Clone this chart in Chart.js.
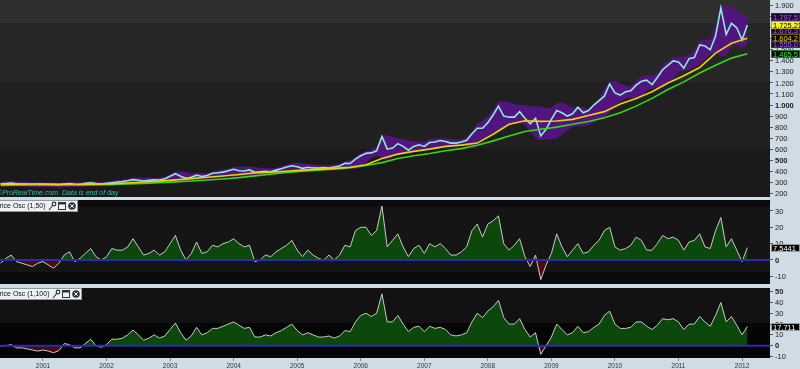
<!DOCTYPE html>
<html>
<head>
<meta charset="utf-8">
<script src="https://cdn.jsdelivr.net/npm/chart.js@4.4.1/dist/chart.umd.min.js"></script>
<style>
  html, body { margin: 0; padding: 0; background: #cfdce5; overflow: hidden; }
  .pane { position: absolute; left: 0; width: 800px; }
  #p0 { top: 0; height: 197px; }
  #p1 { top: 200px; height: 84px; }
  #p2 { top: 288px; height: 81px; }
</style>
</head>
<body>
<div class="pane" id="p0"><canvas id="main" width="800" height="197"></canvas></div>
<div class="pane" id="p1"><canvas id="osc1" width="800" height="84"></canvas></div>
<div class="pane" id="p2"><canvas id="osc2" width="800" height="81"></canvas></div>
<script>
// monthly series start May 2000, quarterly series start at the same month
const firstMonth = 2000 + 4 / 12;
const xMin = 2000.3234, xMax = 2012.4398;

// gold price, monthly
const price = [
  285, 288, 292, 286, 284, 282, 280, 284,
  282, 280, 279, 276, 283, 288, 282, 280, 290, 296, 288, 284,
  290, 296, 303, 306, 313, 324, 318, 312, 318, 322, 320, 332,
  355, 378, 355, 336, 346, 364, 352, 362, 382, 386, 392, 405,
  418, 405, 402, 412, 390, 395, 400, 396, 410, 422, 438, 450,
  440, 426, 436, 430, 428, 434, 430, 438, 448, 472, 470, 510,
  540, 562, 566, 585, 715, 600, 610, 650, 625, 590, 625, 640,
  625, 660, 665, 678, 670, 655, 655, 665, 680, 740, 790, 790,
  840, 910, 990, 900, 890, 890, 940, 880, 830, 880, 720, 780,
  870, 950, 930, 900, 920, 980, 930, 950, 1000, 1040, 1080, 1190,
  1110, 1090, 1120, 1130, 1180, 1215, 1225, 1185, 1250, 1320, 1360, 1400,
  1390, 1335, 1420, 1430, 1545, 1535, 1500, 1625, 1880, 1640, 1740, 1700,
  1590, 1725.23
];

// bollinger bands, monthly
const bbUpper = [
  305, 308, 310, 308, 305, 303, 301, 300,
  298, 296, 295, 294, 298, 302, 300, 298, 304, 310, 308, 304,
  306, 312, 320, 326, 332, 342, 344, 340, 340, 342, 342, 350,
  370, 396, 400, 392, 380, 384, 384, 382, 398, 406, 414, 424,
  436, 441, 441, 440, 438, 432, 426, 424, 430, 442, 458, 472,
  475, 472, 466, 460, 456, 455, 454, 458, 468, 490, 500, 530,
  560, 580, 595, 620, 720, 725, 710, 700, 690, 680, 672, 665,
  668, 690, 698, 700, 700, 690, 685, 690, 710, 760, 830, 860,
  900, 960, 1030, 1035, 1025, 1010, 1000, 1000, 990, 990, 985, 970,
  975, 1015, 1020, 1000, 975, 990, 975, 965, 1010, 1060, 1150, 1210,
  1215, 1200, 1175, 1170, 1220, 1260, 1270, 1265, 1290, 1360, 1400, 1430,
  1440, 1435, 1450, 1500, 1580, 1590, 1590, 1720, 1905, 1900, 1880, 1860,
  1820, 1797.5
];
const bbLower = [
  262, 264, 266, 265, 262, 260, 258, 258,
  258, 256, 254, 253, 255, 258, 260, 260, 262, 264, 266, 266,
  266, 268, 272, 278, 284, 290, 294, 292, 294, 296, 298, 300,
  300, 300, 305, 308, 318, 322, 328, 332, 334, 342, 350, 356,
  350, 355, 360, 362, 364, 366, 368, 370, 374, 380, 388, 396,
  396, 398, 400, 402, 404, 404, 406, 408, 410, 414, 420, 430,
  448, 475, 520, 540, 520, 500, 530, 560, 570, 575, 580, 590,
  595, 600, 610, 625, 635, 635, 630, 628, 630, 625, 640, 680,
  720, 750, 770, 800, 830, 840, 850, 820, 760, 700, 680, 690,
  690, 700, 730, 770, 800, 805, 805, 815, 840, 870, 890, 930,
  1000, 1030, 1060, 1065, 1060, 1080, 1130, 1150, 1150, 1170, 1210, 1240,
  1300, 1310, 1320, 1340, 1370, 1420, 1460, 1480, 1440, 1450, 1530, 1550,
  1520, 1555
];

// moving averages, quarterly
const ma50 = [
  283, 283, 284, 283, 281, 281, 283, 287, 293, 302, 310, 322,
  333, 345, 357, 370, 385, 392, 400, 410, 419, 426, 436, 458,
  515, 555, 580, 600, 625, 637, 655, 735, 825, 858, 852, 855,
  870, 905, 940, 1010, 1060, 1120, 1200, 1265, 1340, 1470, 1560, 1604.2
];
const ma100 = [
  272, 274, 275, 276, 277, 278, 279, 281, 285, 290, 296, 304,
  312, 320, 330, 342, 358, 372, 388, 400, 410, 420, 432, 452,
  478, 515, 540, 560, 585, 605, 635, 675, 720, 760, 780, 800,
  825, 850, 885, 930, 990, 1060, 1140, 1210, 1290, 1360, 1425, 1465.5
];

// price oscillators (1,50) and (1,100), monthly
const osc50 = [
  -2, 1, 3, -1, -2, -3, -4, -2,
  -1, -3, -5, -2, 3, 5, -1, 1, 4, 7, 2, 0,
  2, 7, 6, 6, 8, 13, 8, 3, 4, 6, 3, 5,
  10, 15, 6, 0, 4, 11, 4, 5, 9, 8, 10, 11,
  13, 10, 8, 9, -1, 0, 3, 2, 5, 7, 9, 12,
  6, 2, 6, 3, 1, 0, 3, 0, 3, 9, 8, 18,
  20, 20, 15, 18, 33, 8, 12, 16, 8, 2, 7, 9,
  4, 10, 8, 10, 7, 3, 3, 5, 8, 18, 22, 14,
  22, 24, 27, 10, 6, 9, 13, 2, -4, 3, -12, -3,
  4, 16, 8, 2, 6, 10, 4, 5, 9, 12, 18, 20,
  8, 6, 7, 9, 14, 12, 6, 6, 10, 15, 13, 14,
  12, 6, 11, 12, 16, 8, 7, 18, 26, 8, 13, 6,
  -1, 7.5441
];
const osc100 = [
  -0.5, 0, 1, -2, -2, -3, -4, -5,
  -4, -5, -6.5, -4.6, 2, 1, -2, -2, 2, 6, 0, -1.5,
  1, 6, 6, 7, 10, 14.5, 10, 5, 7, 10, 7, 9,
  15, 21, 12, 5, 9, 17, 10, 12, 16, 16, 18, 20,
  22, 19, 16, 17, 8, 8, 10, 9, 12, 14, 17, 20,
  14, 10, 12, 10, 8, 8, 9, 7, 9, 14, 13, 22,
  28, 30, 27, 30, 48, 22, 22, 28, 20, 13, 17, 18,
  13, 18, 16, 17, 15, 10, 9, 10, 12, 22, 30, 26,
  32, 36, 42, 26, 20, 20, 25, 15, 8, 12, -8, 0,
  8, 20, 15, 10, 12, 18, 12, 13, 17, 20, 28, 32,
  20, 16, 16, 17, 22, 22, 18, 15, 19, 25, 24, 25,
  22, 15, 20, 20, 27, 22, 18, 28, 40, 22, 27, 19,
  10, 17.711
];

const FONT = 'Arial, "Liberation Sans", sans-serif';

const monthly = arr => arr.map((v, i) => ({ x: firstMonth + i / 12, y: v }));
const quarterly = arr => arr.map((v, i) => ({ x: firstMonth + i / 4, y: v }));
const last = arr => arr[arr.length - 1];

// 1725.23 -> "1.725,23"
function fmt(v, dec) {
  const parts = v.toFixed(dec).split('.');
  const int = parts[0].replace(/\B(?=(\d{3})+(?!\d))/g, '.');
  return parts[1] ? int + ',' + parts[1] : int;
}

// background stripes inside the plot area
const panelBg = {
  id: 'panelBg',
  beforeDraw(chart, args, opts) {
    const { ctx, chartArea: a } = chart;
    ctx.save();
    let top = Math.round(a.top);
    opts.bands.forEach(([frac, color]) => {
      const bottom = Math.round(a.top + frac * (a.bottom - a.top));
      ctx.fillStyle = color;
      ctx.fillRect(Math.round(a.left), top, Math.round(a.right - a.left), bottom - top);
      top = bottom;
    });
    ctx.restore();
  }
};

// right axis numbers (drawn by hand so the axis adds no padding above/below the plot)
const axisLabels = {
  id: 'axisLabels',
  afterDraw(chart, args, opts) {
    const { ctx, chartArea: a, scales: { y } } = chart;
    ctx.save();
    ctx.textBaseline = 'middle';
    ctx.fillStyle = '#1a1a1a';
    y.ticks.forEach(t => {
      const py = y.getPixelForValue(t.value);
      ctx.font = (opts.bold.includes(t.value) ? 'bold ' : '') + '7.5px ' + FONT;
      ctx.fillText(fmt(t.value, 0), a.right + 5, py + 0.5);
    });
    ctx.restore();
  }
};

// coloured value tags on the right axis
const valueBoxes = {
  id: 'valueBoxes',
  afterDraw(chart, args, opts) {
    const { ctx, chartArea: a, scales: { y } } = chart;
    ctx.save();
    ctx.font = '7.5px ' + FONT;
    ctx.textBaseline = 'middle';
    opts.boxes.forEach(b => {
      const py = Math.round(y.getPixelForValue(b.value));
      ctx.fillStyle = b.bg;
      ctx.fillRect(a.right + 1, py - 4, 29, 8);
      ctx.strokeStyle = b.edge;
      ctx.lineWidth = 1;
      ctx.strokeRect(a.right + 1.5, py - 3.5, 28, 7);
      ctx.fillStyle = b.fg;
      ctx.fillText(b.text, a.right + 3, py + 0.5);
    });
    ctx.restore();
  }
};

// blue zero line of the oscillators
const zeroLine = {
  id: 'zeroLine',
  afterDatasetsDraw(chart) {
    const { ctx, chartArea: a, scales: { y } } = chart;
    const py = y.getPixelForValue(0);
    ctx.save();
    ctx.strokeStyle = '#2b2bb0';
    ctx.lineWidth = 2;
    ctx.beginPath();
    ctx.moveTo(a.left, py);
    ctx.lineTo(a.right, py);
    ctx.stroke();
    ctx.restore();
  }
};

// indicator title tab with the little icons
const panelHeader = {
  id: 'panelHeader',
  afterDraw(chart, args, opts) {
    const { ctx } = chart;
    const w = opts.width;
    ctx.save();
    ctx.fillStyle = '#eef2f5';
    ctx.fillRect(0, 0, w, 12);
    ctx.strokeStyle = '#8c9aa4';
    ctx.strokeRect(-1, 0.5, w + 0.5, 11);
    ctx.fillStyle = '#111';
    ctx.font = '7px ' + FONT;
    ctx.textBaseline = 'middle';
    ctx.fillText(opts.title, -5, 6.5);
    const ix = w - 29;
    // wrench
    ctx.strokeStyle = '#333';
    ctx.lineWidth = 1.2;
    ctx.beginPath();
    ctx.moveTo(ix, 10);
    ctx.lineTo(ix + 4, 5);
    ctx.stroke();
    ctx.beginPath();
    ctx.arc(ix + 5, 4, 1.8, 0, Math.PI * 2);
    ctx.stroke();
    // window
    ctx.lineWidth = 1;
    ctx.strokeRect(ix + 9.5, 2.5, 7, 7);
    ctx.fillStyle = '#333';
    ctx.fillRect(ix + 9.5, 2.5, 7, 2);
    // close
    ctx.beginPath();
    ctx.arc(ix + 23, 6, 3.8, 0, Math.PI * 2);
    ctx.fill();
    ctx.strokeStyle = '#fff';
    ctx.beginPath();
    ctx.moveTo(ix + 21.3, 4.3); ctx.lineTo(ix + 24.7, 7.7);
    ctx.moveTo(ix + 24.7, 4.3); ctx.lineTo(ix + 21.3, 7.7);
    ctx.stroke();
    ctx.restore();
  }
};

const copyright = {
  id: 'copyright',
  afterDraw(chart) {
    const { ctx } = chart;
    ctx.save();
    ctx.font = 'italic 7px ' + FONT;
    ctx.fillStyle = '#3bbcaa';
    ctx.textBaseline = 'alphabetic';
    ctx.fillText('\u00a9ProRealTime.com  Data is end of day', -3, 195);
    ctx.restore();
  }
};

function yAxis(min, max, step) {
  return {
    type: 'linear',
    position: 'right',
    min: min,
    max: max,
    afterFit: s => { s.width = 30; },
    border: { display: false },
    grid: { drawOnChartArea: false, drawTicks: true, tickLength: 3, color: '#555' },
    ticks: {
      display: false,
      stepSize: step,
      maxTicksLimit: 100,
      includeBounds: false,
      autoSkip: false
    }
  };
}

function xAxis(show) {
  const axis = {
    type: 'linear',
    min: xMin,
    max: xMax,
    display: show,
    border: { display: false },
    grid: { drawOnChartArea: false, drawTicks: true, tickLength: 3, color: '#7a8a94' },
    ticks: {
      stepSize: 1,
      includeBounds: false,
      autoSkip: false,
      maxRotation: 0,
      padding: 1,
      color: '#333',
      font: { family: FONT, size: 6.5 },
      callback: v => String(v)
    }
  };
  if (show) axis.afterFit = s => { s.height = 11; };
  return axis;
}

function baseOptions(extra) {
  return Object.assign({
    responsive: false,
    animation: false,
    events: [],
    layout: { padding: 0, autoPadding: false },
    elements: { point: { radius: 0 }, line: { tension: 0 } }
  }, extra);
}

// main price chart
new Chart(document.getElementById('main').getContext('2d'), {
  type: 'line',
  data: {
    datasets: [
      { label: 'MA50', data: quarterly(ma50), borderColor: '#f2d100', borderWidth: 1.6, fill: false },
      { label: 'MA100', data: quarterly(ma100), borderColor: '#35d812', borderWidth: 1.6, fill: false },
      { label: 'Gold', data: monthly(price), borderColor: '#8de9da', borderWidth: 1.6, fill: false },
      { label: 'BB lower', data: monthly(bbLower), borderColor: 'rgba(0,0,0,0)', borderWidth: 0,
        fill: '+1', backgroundColor: '#52147f' },
      { label: 'BB upper', data: monthly(bbUpper), borderColor: 'rgba(0,0,0,0)', borderWidth: 0, fill: false }
    ]
  },
  options: baseOptions({
    scales: {
      x: xAxis(false),
      y: yAxis(166.5, 1951.7, 100)
    },
    plugins: {
      legend: { display: false },
      tooltip: { enabled: false },
      panelBg: { bands: [[0.117, '#2f2f2f'], [0.418, '#262626'], [0.755, '#202020'], [1, '#1a1a1a']] },
      axisLabels: { bold: [1000, 500] },
      valueBoxes: { boxes: [
        { value: (last(bbUpper) + last(bbLower)) / 2, text: fmt((last(bbUpper) + last(bbLower)) / 2, 1), bg: '#1d0833', fg: '#9a62dc', edge: '#4a1d78' },
        { value: last(bbLower), text: fmt(last(bbLower), 1), bg: '#1d0833', fg: '#9a62dc', edge: '#4a1d78' },
        { value: last(bbUpper), text: fmt(last(bbUpper), 1), bg: '#1d0833', fg: '#9a62dc', edge: '#4a1d78' },
        { value: last(price), text: fmt(last(price), 2), bg: '#f4f03c', fg: '#000', edge: '#b8b000' },
        { value: last(ma50), text: fmt(last(ma50), 1), bg: '#050505', fg: '#f2d100', edge: '#6a5a00' },
        { value: last(ma100), text: fmt(last(ma100), 1), bg: '#050505', fg: '#3fe23f', edge: '#1f7a1f' }
      ] }
    }
  }),
  plugins: [panelBg, axisLabels, valueBoxes, copyright]
});

function oscChart(id, data, yMin, yMax, bold, bands, title, tabWidth, dec, showX) {
  return new Chart(document.getElementById(id).getContext('2d'), {
    type: 'line',
    data: {
      datasets: [{
        label: title,
        data: monthly(data),
        borderColor: '#c9c9c9',
        borderWidth: 1,
        fill: { target: { value: 0 }, above: '#0c470c', below: '#4e0b0b' }
      }]
    },
    options: baseOptions({
      scales: {
        x: xAxis(showX),
        y: yAxis(yMin, yMax, 10)
      },
      plugins: {
        legend: { display: false },
        tooltip: { enabled: false },
        panelBg: { bands: bands },
        axisLabels: { bold: bold },
        panelHeader: { title: title, width: tabWidth },
        valueBoxes: { boxes: [
          { value: last(data), text: fmt(last(data), dec), bg: '#000', fg: '#fff', edge: '#9a9a9a' }
        ] }
      }
    }),
    plugins: [panelBg, zeroLine, axisLabels, valueBoxes, panelHeader]
  });
}

oscChart('osc1', osc50, -14.7, 36.7, [0],
  [[0.083, '#0b0b0b'], [0.857, '#151515'], [1, '#0b0b0b']],
  'Price Osc (1,50)', 78, 4, false);
oscChart('osc2', osc100, -11.4, 53.4, [0, 50],
  [[0.5, '#121212'], [1, '#050505']],
  'Price Osc (1,100)', 82, 3, true);
</script>
</body>
</html>
